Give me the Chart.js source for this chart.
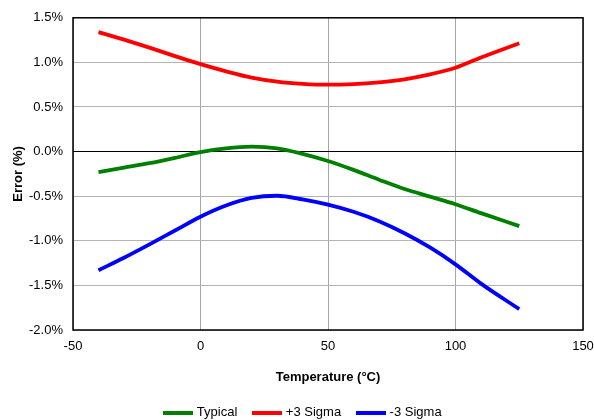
<!DOCTYPE html>
<html>
<head>
<meta charset="utf-8">
<script src="https://cdn.jsdelivr.net/npm/chart.js@4.4.1/dist/chart.umd.min.js"></script>
<style>
html,body{margin:0;padding:0;background:#fff;}
#wrap{width:594px;height:420px;position:relative;}
</style>
</head>
<body>
<div id="wrap"><canvas id="c" width="594" height="420"></canvas></div>
<script>
const temperatures = [-40, -30, -20, -10, 0, 10, 20, 30, 40, 50, 60, 70, 80, 90, 100, 110, 125];
const typical     = [-0.23, -0.18, -0.13, -0.07, -0.005, 0.037, 0.055, 0.037, -0.025, -0.105, -0.205, -0.315, -0.42, -0.505, -0.59, -0.69, -0.835];
const plus3Sigma  = [1.34, 1.255, 1.165, 1.07, 0.98, 0.90, 0.83, 0.785, 0.76, 0.75, 0.757, 0.777, 0.81, 0.865, 0.94, 1.055, 1.215];
const minus3Sigma = [-1.33, -1.19, -1.04, -0.885, -0.73, -0.605, -0.52, -0.495, -0.535, -0.595, -0.675, -0.78, -0.915, -1.075, -1.264, -1.48, -1.766];
const seriesNames = ['Typical', '+3 Sigma', '-3 Sigma'];
const xTicks = [-50, 0, 50, 100, 150];
const yTicks = [-2.0, -1.5, -1.0, -0.5, 0.0, 0.5, 1.0, 1.5];

const FONT = "'Liberation Sans', Arial, sans-serif";
const toPts = arr => arr.map((v, i) => ({x: temperatures[i], y: v}));
function legendLine(color) {
  const cv = document.createElement('canvas');
  cv.width = 30; cv.height = 4;
  const c = cv.getContext('2d');
  c.fillStyle = color;
  c.fillRect(0, 0, 30, 4);
  return cv;
}
const mk = (label, arr, color) => ({
  label, data: toPts(arr), borderColor: color, backgroundColor: color,
  borderWidth: 3.8, pointRadius: 0, pointHoverRadius: 0, pointStyle: legendLine(color),
  cubicInterpolationMode: 'monotone', fill: false
});

const borderPlugin = {
  id: 'plotBorder',
  beforeDatasetsDraw(chart) {
    const {ctx, chartArea: a} = chart;
    ctx.save();
    ctx.strokeStyle = '#000';
    ctx.lineWidth = 1.5;
    ctx.strokeRect(a.left, a.top, a.right - a.left, a.bottom - a.top);
    ctx.restore();
  }
};
const legendShift = {
  id: 'legendShift',
  afterLayout(chart) {
    if (chart.legend) { chart.legend.left += 7; chart.legend.right += 7; }
  }
};

new Chart(document.getElementById('c'), {
  type: 'line',
  data: {
    datasets: [
      mk(seriesNames[0], typical, '#008000'),
      mk(seriesNames[1], plus3Sigma, '#ff0000'),
      mk(seriesNames[2], minus3Sigma, '#0000ff')
    ]
  },
  options: {
    responsive: false,
    animation: false,
    devicePixelRatio: 1,
    layout: {padding: {top: 17, right: 0, bottom: -9, left: 0}},
    plugins: {
      tooltip: {enabled: false},
      legend: {
        position: 'bottom',
        labels: {
          font: {family: FONT, size: 13},
          color: '#000',
          usePointStyle: true,
          pointStyleWidth: 24,
          boxHeight: 4,
          padding: 18
        }
      }
    },
    scales: {
      x: {
        type: 'linear',
        min: -50, max: 150,
        afterBuildTicks(s) { s.ticks = xTicks.map(v => ({value: v})); },
        afterFit(s) { s.height = 58; s.paddingRight = 11; },
        grid: {color: '#a6a6a6', lineWidth: 1, drawTicks: false},
        border: {display: false},
        ticks: {font: {family: FONT, size: 13}, color: '#000', padding: 9, maxRotation: 0},
        title: {display: true, text: 'Temperature (°C)', font: {family: FONT, size: 13, weight: 'bold'}, color: '#000', padding: {top: 8, bottom: 3}}
      },
      y: {
        type: 'linear',
        min: -2, max: 1.5,
        afterBuildTicks(s) { s.ticks = yTicks.map(v => ({value: v})); },
        afterFit(s) { s.width = 73; },
        grid: {
          color: ctx => (ctx.tick && ctx.tick.value === 0) ? '#000' : '#b4b4b4',
          lineWidth: 1, drawTicks: false
        },
        border: {display: false},
        ticks: {font: {family: FONT, size: 13}, color: '#000', padding: 10,
          callback: v => v.toFixed(1) + '%'},
        title: {display: true, text: 'Error (%)', font: {family: FONT, size: 13, weight: 'bold'}, color: '#000', padding: {top: 11, bottom: 0}}
      }
    }
  },
  plugins: [borderPlugin, legendShift]
});
</script>
</body>
</html>
